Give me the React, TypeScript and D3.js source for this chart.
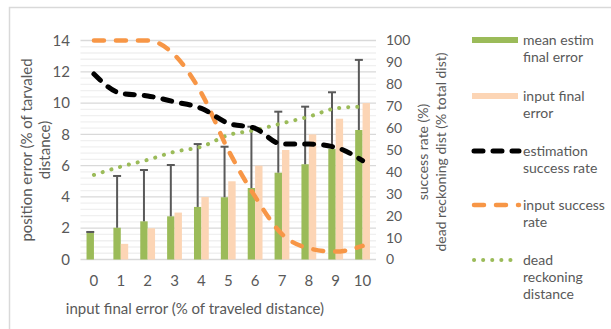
import { useEffect } from "react";
import * as d3 from "d3";

// categories: input final error (% of traveled distance)
const categories = ["0", "1", "2", "3", "4", "5", "6", "7", "8", "9", "10"];
// bars, left axis (% of traveled distance)
const meanEstimError = [1.7, 2.03, 2.44, 2.76, 3.36, 3.98, 4.57, 5.55, 6.09, 7.07, 8.28];
const meanEstimErrorTop = [1.76, 5.34, 5.72, 6.04, 7.38, 7.21, 8.49, 9.45, 9.77, 10.69, 12.76];
const inputFinalError = [0, 1, 2, 3, 4, 5, 6, 7, 8, 9, 10];
// lines, right axis (%)
const estimSuccess = [84.7, 75.9, 74.7, 72, 69, 62.2, 59.9, 52.7, 52.7, 51.2, 45.1];
const inputSuccess = [100, 100, 100, 93.4, 76, 50, 28.7, 11.6, 5.1, 3.6, 6.2];
const deadReckoning = [38.6, 42.4, 45.5, 49.2, 51.5, 56.8, 59.1, 62.2, 65.2, 69, 69.8];

const leftTicks = [0, 2, 4, 6, 8, 10, 12, 14];
const rightTicks = [0, 10, 20, 30, 40, 50, 60, 70, 80, 90, 100];

const GREEN = "#9bbb59";
const PEACH = "#fcd5b5";
const ORANGE = "#f79646";
const TXT = "#595959";
const FONT = "Lato, 'Open Sans', sans-serif";

const App = () => {
  useEffect(() => {
    document.body.style.margin = "0";
  }, []);

  const W = 611, H = 329;
  const plot = { left: 80.5, right: 376, top: 40.5, bottom: 259.5 };

  const x = d3.scaleBand().domain(categories).range([plot.left, plot.right]);
  const yL = d3.scaleLinear().domain([0, 14]).range([plot.bottom, plot.top]);
  const yR = d3.scaleLinear().domain([0, 100]).range([plot.bottom, plot.top]);
  const barW = 7.4;
  const cx = (c: string) => (x(c) as number) + x.bandwidth() / 2;

  const minorTicks = d3.range(0, 14.001, 0.4).filter(v => Math.abs(v / 2 - Math.round(v / 2)) > 0.01);

  const line = (vals: number[]) =>
    d3.line<number>()
      .x((_, i) => cx(categories[i]))
      .y(v => yR(v))
      .curve(d3.curveMonotoneX)(vals) as string;

  const legend = [
    { y: 40, lines: ["mean estim", "final error"], kind: "bar", color: GREEN },
    { y: 96, lines: ["input final", "error"], kind: "bar", color: PEACH },
    { y: 151, lines: ["estimation", "success rate"], kind: "black" },
    { y: 205, lines: ["input success", "rate"], kind: "orange" },
    { y: 260, lines: ["dead", "reckoning", "distance"], kind: "dot" },
  ];

  return (
    <svg width={W} height={H} style={{ display: "block", fontFamily: FONT }}>
      <rect width={W} height={H} fill="#fff" />
      {/* chart frame (cropped) */}
      <path d={`M9.5,${H} V7.5 H${W}`} fill="none" stroke="#d9d9d9" strokeWidth={1.5} />

      {/* gridlines */}
      {minorTicks.map(v => (
        <line key={"m" + v} x1={plot.left} x2={plot.right} y1={yL(v)} y2={yL(v)} stroke="#f0f0f0" strokeWidth={1.3} />
      ))}
      {leftTicks.map(v => (
        <line key={"g" + v} x1={plot.left} x2={plot.right} y1={yL(v)} y2={yL(v)} stroke="#d9d9d9" strokeWidth={1.3} />
      ))}

      {/* bars */}
      {categories.map((c, i) => (
        <g key={"b" + c}>
          <rect x={cx(c) - barW} y={yL(meanEstimError[i])} width={barW} height={plot.bottom - yL(meanEstimError[i])} fill={GREEN} />
          <rect x={cx(c)} y={yL(inputFinalError[i])} width={barW} height={plot.bottom - yL(inputFinalError[i])} fill={PEACH} />
        </g>
      ))}
      {/* error bars */}
      {categories.map((c, i) => {
        const ex = cx(c) - barW / 2;
        return (
          <g key={"e" + c} stroke="#595959" strokeWidth={2}>
            <line x1={ex} x2={ex} y1={yL(meanEstimError[i])} y2={yL(meanEstimErrorTop[i])} />
            <line x1={ex - 4} x2={ex + 4} y1={yL(meanEstimErrorTop[i])} y2={yL(meanEstimErrorTop[i])} />
          </g>
        );
      })}

      {/* lines */}
      <path d={line(deadReckoning)} fill="none" stroke={GREEN} strokeWidth={4} strokeLinecap="round" strokeDasharray="0.1,9" />
      <path d={line(inputSuccess)} fill="none" stroke={ORANGE} strokeWidth={4.5} strokeLinecap="round" strokeDasharray="10,12" />
      <path d={line(estimSuccess)} fill="none" stroke="#000" strokeWidth={5} strokeLinecap="round" strokeDasharray="9,10" />

      {/* left axis */}
      {leftTicks.map(v => (
        <text key={"lt" + v} x={70} y={yL(v)} dy="0.35em" textAnchor="end" fontSize={15} fill={TXT}>{v}</text>
      ))}
      {/* right axis */}
      {rightTicks.map(v => (
        <text key={"rt" + v} x={386} y={yR(v)} dy="0.35em" textAnchor="start" fontSize={14} fill={TXT}>{v}</text>
      ))}
      {/* x axis */}
      {categories.map(c => (
        <text key={"xt" + c} x={cx(c)} y={286} textAnchor="middle" fontSize={15} fill={TXT}>{c}</text>
      ))}
      <text x={195} y={314} textAnchor="middle" fontSize={15} fill={TXT}>
        input final error (% of traveled distance)
      </text>

      {/* axis titles */}
      <g transform="translate(32,150) rotate(-90)" fill={TXT} fontSize={15}>
        <text x={0} y={0} textAnchor="middle">position error (% of tarvaled</text>
        <text x={0} y={18} textAnchor="middle">distance)</text>
      </g>
      <g transform="translate(428,152) rotate(-90)" fill={TXT} fontSize={14}>
        <text x={0} y={0} textAnchor="middle">success rate (%)</text>
        <text x={0} y={18} textAnchor="middle">dead reckoning dist (% total dist)</text>
      </g>

      {/* legend */}
      {legend.map(l => (
        <g key={l.lines[0]}>
          {l.kind === "bar" && <rect x={472} y={l.y - 3} width={46} height={6} fill={l.color} />}
          {l.kind === "black" && <line x1={474} x2={519} y1={l.y} y2={l.y} stroke="#000" strokeWidth={5} strokeLinecap="round" strokeDasharray="9,10" />}
          {l.kind === "orange" && <line x1={474} x2={519} y1={l.y} y2={l.y} stroke={ORANGE} strokeWidth={4.5} strokeLinecap="round" strokeDasharray="10,12" />}
          {l.kind === "dot" && <line x1={474} x2={519} y1={l.y} y2={l.y} stroke={GREEN} strokeWidth={4} strokeLinecap="round" strokeDasharray="0.1,9" />}
          {l.lines.map((t, k) => (
            <text key={t} x={523} y={l.y + k * 17} dy="0.35em" fontSize={14} fill={TXT}>{t}</text>
          ))}
        </g>
      ))}
    </svg>
  );
};

export default App;
